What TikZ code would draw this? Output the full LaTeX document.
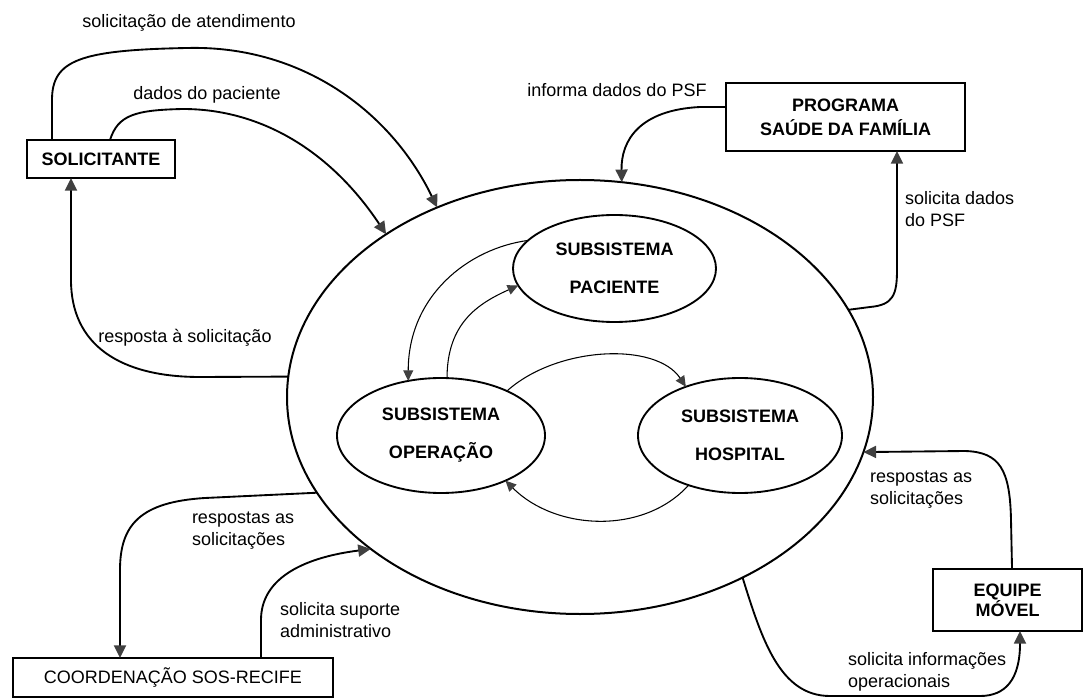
\documentclass[tikz,border=0pt]{standalone}
\usepackage{fontspec}
\setmainfont{Liberation Sans}
\usetikzlibrary{arrows.meta,shapes.geometric}
\definecolor{tipgray}{RGB}{64,64,64}
\begin{document}
\begin{tikzpicture}[x=0.75pt,y=-0.75pt,
  every node/.style={inner sep=0pt,outer sep=0pt},
  lbl/.style={font=\fontsize{13.5pt}{16.5pt}\selectfont, align=left},
  entity/.style={draw, line width=1.5pt, rectangle, align=center},
  sub/.style={draw, line width=1.4pt, ellipse, align=center,
    font=\bfseries\fontsize{13.5pt}{28.5pt}\selectfont},
  flow/.style={line width=1.4pt,
    -{Triangle[length=9.5pt,width=9pt,fill=tipgray,color=tipgray]}},
  iflow/.style={line width=0.8pt,
    -{Triangle[length=8pt,width=7.5pt,fill=tipgray,color=tipgray]}},
]
\useasboundingbox (0,0) rectangle (1085,698);

% the system boundary
\node[draw, ellipse, line width=1.5pt, minimum width=439.5pt, minimum height=325.5pt] (sys) at (580,397) {};

% subsystems
\node[sub, minimum width=152.25pt, minimum height=80.25pt] (pac) at (614.5,268.5) {SUBSISTEMA\\PACIENTE};
\node[sub, minimum width=156pt, minimum height=86.25pt] (op) at (441,435.5) {SUBSISTEMA\\OPERAÇÃO};
\node[sub, minimum width=153pt, minimum height=86.25pt] (hos) at (740,435.5) {SUBSISTEMA\\HOSPITAL};

% external entities
\node[entity, minimum width=111pt, minimum height=28.5pt, font=\bfseries\fontsize{13.5pt}{16pt}\selectfont] (sol) at (101,159) {SOLICITANTE};
\node[entity, minimum width=179.25pt, minimum height=51pt, font=\bfseries\fontsize{13.5pt}{18pt}\selectfont] (psf) at (845.5,117) {PROGRAMA\\SAÚDE DA FAMÍLIA};
\node[entity, minimum width=111.75pt, minimum height=46.5pt, font=\bfseries\fontsize{13.5pt}{15pt}\selectfont] (equ) at (1007.5,600) {EQUIPE\\MÓVEL};
\node[entity, minimum width=240pt, minimum height=29.25pt, font=\fontsize{13.5pt}{16pt}\selectfont] (coord) at (173,677.5) {COORDENAÇÃO SOS-RECIFE};

% flow labels
\node[lbl] (tA) at (189,23) {solicitação de atendimento};
\node[lbl] (tB) at (207,95) {dados do paciente};
\node[lbl] (tC) at (185,338) {resposta à solicitação};
\node[lbl] (tD) at (617,90) {informa dados do PSF};
\node[lbl, anchor=west] (tE) at (905,209) {solicita dados\\do PSF};
\node[lbl, anchor=west] (tF) at (192,531) {respostas as\\solicitações};
\node[lbl, anchor=west] (tG) at (280,620) {solicita suporte\\administrativo};
\node[lbl, anchor=west] (tH) at (870,490) {respostas as\\solicitações};
\node[lbl, anchor=west] (tI) at (848,672) {solicita informações\\operacionais};

% flows between the entities and the system
\draw[flow] ([xshift=-36.75pt]sol.north) -- (52,100) .. controls (52,60) and (80,50) .. (187,48)
  .. controls (300,45) and (390,110) .. (sys.127);
\draw[flow] ([xshift=6.75pt]sol.north) .. controls (118,115) and (135,110) .. (183,109)
  .. controls (260,109) and (330,150) .. (sys.140);
\draw[flow] (sys.176) -- (200,377) .. controls (120,377) and (71,345) .. (71,280)
  -- ([xshift=-22.5pt]sol.south);
\draw[flow] ([yshift=7.5pt]psf.west) -- (700,107) .. controls (640,110) and (621,140) .. (sys.79);
\draw[flow] (sys.18) -- (870,307) .. controls (893,305) and (897,295) .. (897,270)
  -- ([xshift=38.6pt]psf.south);
\draw[flow] (sys.200) -- (205,498) .. controls (140,502) and (120,525) .. (120,570)
  -- ([xshift=-39.75pt]coord.north);
\draw[flow] ([xshift=66pt]coord.north) -- (261,620) .. controls (261,580) and (300,558) .. (sys.216);
\draw[flow] (sys.312) .. controls (762,640) and (780,696) .. (830,696) -- (980,696)
  .. controls (1005,696) and (1020,680) .. ([xshift=9.4pt]equ.south);
\draw[flow] ([xshift=3.4pt]equ.north) -- (1011,520) .. controls (1010,470) and (1000,452) .. (965,451)
  -- (sys.349);

% flows between the subsystems
\draw[iflow] (pac.162) .. controls +(-60,8) and +(0,-85) .. (op.121);
\draw[iflow] (op.84) .. controls +(0,-55) and +(-40,18) .. (pac.190);
\draw[iflow] (op.34) .. controls +(50,-45) and +(-30,-45) .. (hos.138);
\draw[iflow] (hos.224) .. controls +(-45,50) and +(50,50) .. (op.325);
\end{tikzpicture}
\end{document}
